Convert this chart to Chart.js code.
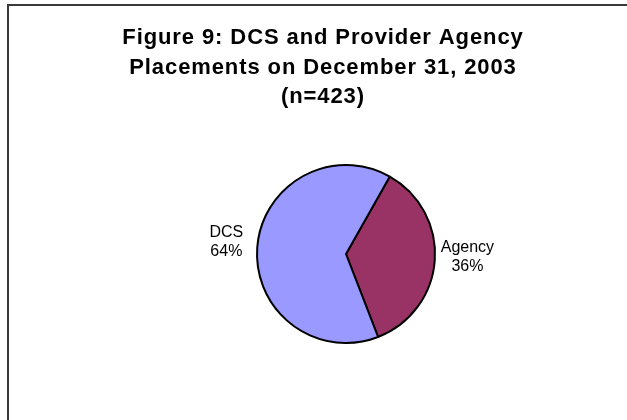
<!DOCTYPE html>
<html>
<head>
<meta charset="utf-8">
<script src="https://cdn.jsdelivr.net/npm/chart.js@4.4.1/dist/chart.umd.min.js"></script>
<style>
    html, body { margin: 0; padding: 0; background: #fff; overflow: hidden; }
    #wrap { position: absolute; left: 0; top: 0; width: 627px; height: 420px; }
    /* the frame round the figure, only top and left edge are in the picture */
    #frame {
        position: absolute; left: 7px; top: 4px; width: 700px; height: 500px;
        border-top: 2px solid #3a3a3a; border-left: 2px solid #3a3a3a;
        pointer-events: none;
    }
</style>
</head>
<body>
<div id="wrap"><canvas id="chartPlacements" width="627" height="420"></canvas></div>
<div id="frame"></div>
<script>
// Data
const titleLines = [
    'Figure 9: DCS and Provider Agency',
    'Placements on December 31, 2003',
    '(n=423)'
];
const categories = ['Agency', 'DCS'];
const placements = [152, 271];          // n = 423
const percentLabels = ['36%', '64%'];
const sliceColors = ['#993366', '#9999FF'];

/* Title drawn by hand: it is centred a little left of the pie */
const figureTitle = {
    id: 'figure_title',
    afterDraw: (chart, args, opts) => {
        const ctx = chart.ctx;
        ctx.save();
        ctx.font = 'bold 22px "Liberation Sans", Arial, sans-serif';
        ctx.fillStyle = '#000';
        ctx.textAlign = 'center';
        ctx.textBaseline = 'alphabetic';
        ctx.letterSpacing = '0.9px';
        titleLines.forEach((line, i) => {
            ctx.fillText(line, opts.x, opts.y + i * opts.lineHeight);
        });
        ctx.restore();
    }
};

/* Category name and percent outside every slice */
const sliceLabels = {
    id: 'slice_labels',
    afterDatasetsDraw: (chart, args, opts) => {
        const ctx = chart.ctx;
        const meta = chart.getDatasetMeta(0);
        ctx.save();
        ctx.font = '16px "Liberation Sans", Arial, sans-serif';
        ctx.fillStyle = '#000';
        ctx.textAlign = 'center';
        ctx.textBaseline = 'middle';
        meta.data.forEach((arc, i) => {
            const p = arc.getProps(['x', 'y', 'startAngle', 'endAngle', 'outerRadius']);
            const mid = (p.startAngle + p.endAngle) / 2;
            const r = p.outerRadius + opts.gaps[i];
            const ax = p.x + Math.cos(mid) * r;
            const ay = p.y + Math.sin(mid) * r + opts.shiftY;
            const lines = [categories[i], percentLabels[i]];
            const w = Math.max(...lines.map(t => ctx.measureText(t).width));
            const cx = Math.cos(mid) < 0 ? ax - w / 2 : ax + w / 2;
            const top = ay - (lines.length - 1) * opts.lineHeight / 2;
            lines.forEach((t, k) => ctx.fillText(t, cx, top + k * opts.lineHeight));
        });
        ctx.restore();
    }
};

const configPlacements = {
    type: 'pie',
    data: {
        labels: categories,
        datasets: [{
            data: placements,
            backgroundColor: sliceColors,
            borderColor: '#000',
            borderWidth: 2
        }]
    },
    options: {
        responsive: false,
        animation: false,
        rotation: 29.5,
        layout: {
            padding: { top: 164, bottom: 76, left: 150, right: 85 }
        },
        plugins: {
            legend: { display: false },
            tooltip: { enabled: false },
            title: { display: false },
            figure_title: { x: 323, y: 44, lineHeight: 29.5 },
            slice_labels: { gaps: [6, 14], shiftY: -4, lineHeight: 19 }
        }
    },
    plugins: [figureTitle, sliceLabels]
};

let chartPlacements = new Chart(
    document.getElementById('chartPlacements'),
    configPlacements
);
</script>
</body>
</html>
